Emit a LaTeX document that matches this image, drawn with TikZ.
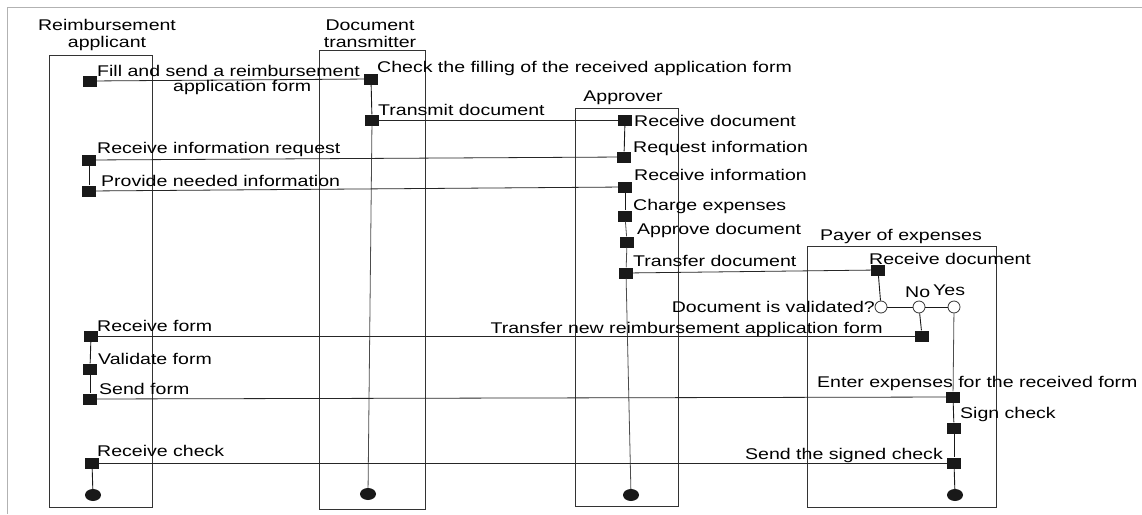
\documentclass[tikz,border=0pt]{standalone}
\usepackage{fontspec}
\newfontfamily\lblfont{Liberation Sans}[FakeStretch=1.26]
\usetikzlibrary{shapes.geometric}
\tikzset{
  actbox/.style={rectangle,fill=black!90,minimum width=14pt,minimum height=11pt,inner sep=0pt},
  choice/.style={circle,draw=black!80,fill=white,minimum size=12pt,inner sep=0pt,line width=0.8pt},
  endpt/.style={ellipse,fill=black!90,minimum width=16pt,minimum height=12pt,inner sep=0pt},
  lbl/.style={inner sep=0pt,font={\lblfont\fontsize{15.5}{16.5}\selectfont}},
  lane/.style={draw=black!80,line width=0.8pt},
  msg/.style={black!85,line width=0.8pt},
  life/.style={black!70,line width=0.8pt},
  link/.style={black!90,line width=0.9pt}
}
\begin{document}
\begin{tikzpicture}[x=1pt,y=-1pt]
  \useasboundingbox (0,0) rectangle (1142,514);
  \draw[gray!60,line width=0.8pt] (7,514) -- (7,7) -- (1142,7);
  \draw[lane] (49,55) rectangle (152,507);
  \draw[lane] (319,50) rectangle (425,509);
  \draw[lane] (575,108) rectangle (678,506);
  \draw[lane] (807,246) rectangle (996,507);
  \node[lbl,align=center,anchor=base] (h1) at (107,47) {Reimbursement\\applicant};
  \node[lbl,align=center,anchor=base] (h2) at (370,47) {Document\\transmitter};
  \node[lbl,anchor=base] (h3) at (623,101) {Approver};
  \node[lbl,anchor=base] (h4) at (901,240) {Payer of expenses};
  \node[actbox] (a1) at (90,81) {};
  \node[actbox] (a2) at (89,160) {};
  \node[actbox] (a3) at (89,191) {};
  \node[actbox] (a4) at (91,336) {};
  \node[actbox] (a5) at (90,369) {};
  \node[actbox] (a6) at (90,399) {};
  \node[actbox] (a7) at (92,463) {};
  \node[endpt] (a8) at (93,495) {};
  \node[actbox] (t1) at (371,79) {};
  \node[actbox] (t2) at (372,120) {};
  \node[endpt] (t3) at (368,494) {};
  \node[actbox] (p1) at (625,120) {};
  \node[actbox] (p2) at (624,157) {};
  \node[actbox] (p3) at (625,187) {};
  \node[actbox] (p4) at (625,216) {};
  \node[actbox] (p5) at (627,242) {};
  \node[actbox] (p6) at (626,273) {};
  \node[endpt] (p7) at (631,495) {};
  \node[actbox] (e1) at (878,270) {};
  \node[choice] (d1) at (881,307) {};
  \node[choice] (d2) at (919,307) {};
  \node[choice] (d3) at (954,307) {};
  \node[actbox] (e2) at (922,336) {};
  \node[actbox] (e3) at (953,397) {};
  \node[actbox] (e4) at (954,428) {};
  \node[actbox] (e5) at (954,463) {};
  \node[endpt] (e6) at (955,495) {};
  \path[link] (a2) edge (a3) (a4) edge (a5) (a5) edge (a6) (a7) edge (a8);
  \path[link] (t1) edge (t2);
  \path[life] (t2) edge (t3);
  \path[link] (p1) edge (p2) (p3) edge (p4);
  \path[life] (p4) edge (p5) (p5) edge (p6) (p6) edge (p7);
  \path[link] (e1) edge (d1) (d1) edge (d2) (d2) edge (d3) (d2) edge (e2);
  \path[life] (d3) edge (e3);
  \path[link] (e3) edge (e4) (e4) edge (e5) (e5) edge (e6);
  \path[msg] (a1) edge (t1);
  \path[msg] (t2) edge (p1);
  \path[msg] (a2) edge (p2);
  \path[msg] (a3) edge (p3);
  \path[msg] (p6) edge (e1);
  \path[msg] (a4) edge (e2);
  \path[msg] (a6) edge (e3);
  \path[msg] (a7) edge (e5);
  \node[lbl,anchor=base west] (l1) at (97,76) {Fill and send a reimbursement};
  \node[lbl,anchor=base west] (l2) at (173,91) {application form};
  \node[lbl,anchor=base west] (l3) at (377,72) {Check the filling of the received application form};
  \node[lbl,anchor=base west] (l4) at (378,115) {Transmit document};
  \node[lbl,anchor=base west] (l5) at (634,126) {Receive document};
  \node[lbl,anchor=base west] (l6) at (97,153) {Receive information request};
  \node[lbl,anchor=base west] (l7) at (633,152) {Request information};
  \node[lbl,anchor=base west] (l8) at (101,186) {Provide needed information};
  \node[lbl,anchor=base west] (l9) at (634,180) {Receive information};
  \node[lbl,anchor=base west] (l10) at (633,210) {Charge expenses};
  \node[lbl,anchor=base west] (l11) at (637,234) {Approve document};
  \node[lbl,anchor=base west] (l12) at (633,266) {Transfer document};
  \node[lbl,anchor=base west] (l13) at (869,264) {Receive document};
  \node[lbl,anchor=base east] (l14) at (875,312) {Document is validated?};
  \node[lbl,anchor=base west] (l15) at (905,297) {No};
  \node[lbl,anchor=base west] (l16) at (933,295) {Yes};
  \node[lbl,anchor=base west] (l17) at (97,331) {Receive form};
  \node[lbl,anchor=base east] (l18) at (883,333) {Transfer new reimbursement application form};
  \node[lbl,anchor=base west] (l19) at (98,364) {Validate form};
  \node[lbl,anchor=base west] (l20) at (817,387) {Enter expenses for the received form};
  \node[lbl,anchor=base west] (l21) at (99,394) {Send form};
  \node[lbl,anchor=base west] (l22) at (960,418) {Sign check};
  \node[lbl,anchor=base west] (l23) at (97,456) {Receive check};
  \node[lbl,anchor=base east] (l24) at (943,459) {Send the signed check};
\end{tikzpicture}
\end{document}
